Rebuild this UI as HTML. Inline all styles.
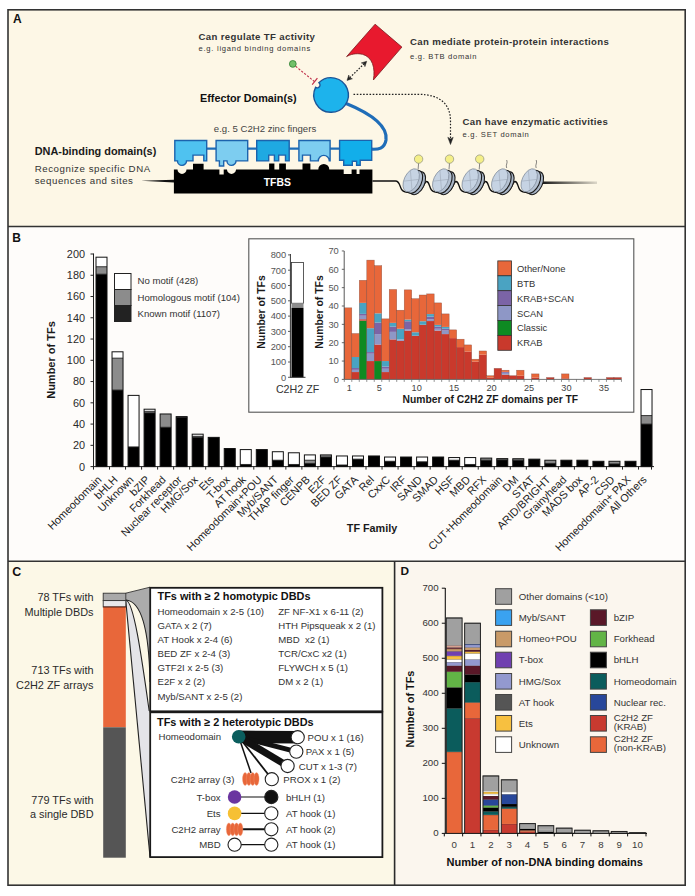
<!DOCTYPE html>
<html><head><meta charset="utf-8"><style>
html,body{margin:0;padding:0;background:#fff;width:695px;height:896px;overflow:hidden}
svg{display:block;font-family:"Liberation Sans", sans-serif}
</style></head><body>
<svg width="695" height="896" viewBox="0 0 695 896">
<rect x="8.00" y="10.00" width="677.00" height="216.50" fill="#FDF7E6" />
<rect x="8.00" y="226.50" width="677.00" height="334.00" fill="#FEFCFA" />
<rect x="8.00" y="560.80" width="386.70" height="324.50" fill="#FCF8E7" />
<rect x="394.70" y="560.80" width="290.60" height="324.50" fill="#FBF6EE" />
<text x="13.00" y="23.30" font-size="12" fill="#111" font-weight="bold" text-anchor="start" >A</text>
<text x="198.50" y="40.40" font-size="9.6" fill="#333" font-weight="bold" text-anchor="start" letter-spacing="0.35">Can regulate TF activity</text>
<text x="198.50" y="51.40" font-size="7.6" fill="#333" text-anchor="start" letter-spacing="0.74">e.g. ligand binding domains</text>
<text x="200.00" y="101.60" font-size="10.8" fill="#111" font-weight="bold" text-anchor="start" >Effector Domain(s)</text>
<text x="410.10" y="45.00" font-size="9.6" fill="#333" font-weight="bold" text-anchor="start" letter-spacing="0.35">Can mediate protein-protein interactions</text>
<text x="410.10" y="58.80" font-size="7.6" fill="#333" text-anchor="start" letter-spacing="0.7">e.g. BTB domain</text>
<text x="462.60" y="125.00" font-size="9.6" fill="#333" font-weight="bold" text-anchor="start" letter-spacing="0.35">Can have enzymatic activities</text>
<text x="462.60" y="137.40" font-size="7.6" fill="#333" text-anchor="start" letter-spacing="0.7">e.g. SET domain</text>
<text x="213.80" y="132.40" font-size="9.6" fill="#444" text-anchor="start" >e.g. 5 C2H2 zinc fingers</text>
<text x="34.70" y="155.30" font-size="10.9" fill="#1a1a1a" font-weight="bold" text-anchor="start" >DNA-binding domain(s)</text>
<text x="34.70" y="172.30" font-size="9.7" fill="#333" text-anchor="start" letter-spacing="0.55">Recognize specific DNA</text>
<text x="34.70" y="184.00" font-size="9.7" fill="#333" text-anchor="start" letter-spacing="0.55">sequences and sites</text>
<line x1="295.6" y1="66.3" x2="314.5" y2="81.6" stroke="#C0304A" stroke-width="1.1" stroke-dasharray="2.2,1.5"/>
<line x1="312.2" y1="84.6" x2="317.4" y2="78.2" stroke="#C0304A" stroke-width="1.2"/>
<circle cx="292.8" cy="63.9" r="3.4" fill="#72C06A" stroke="#2E7D32" stroke-width="0.8"/>
<path d="M345,103 C372,114 388,126 386,140 C384.5,149 378,149.5 371.8,149.2" fill="none" stroke="#1F6DB8" stroke-width="3.2"/>
<path d="M318.87,82.77 A17.3,17.3 0 1 1 315.59,87.33 A2.8,2.8 0 1 0 318.87,82.77 Z" fill="#1DB3EC" stroke="#1A5598" stroke-width="1.4"/>
<path d="M346.6,56.6 L375.1,24.2 L401.9,47.1 L373.4,80 C375.5,68 372.5,57 362.5,54.3 C356,52.8 350,54.5 346.6,56.6 Z" fill="#E8192E" stroke="#7a1a20" stroke-width="0.8"/>
<line x1="349.8" y1="77.7" x2="363.9" y2="64.0" stroke="#222" stroke-width="1.2" stroke-dasharray="1.6,1.5"/>
<path d="M347,80.4 L348.78,75.05 L349.58,77.89 L352.4,78.79 Z" fill="#222" stroke="#222" stroke-width="0.5"/>
<path d="M366.7,61.3 L364.92,66.65 L364.12,63.81 L361.3,62.91 Z" fill="#222" stroke="#222" stroke-width="0.5"/>
<path d="M353.5,94.3 L418,94.3 C440,94.3 450.5,104 450.5,121 L450.5,139" fill="none" stroke="#222" stroke-width="1.2" stroke-dasharray="1.6,1.6"/>
<path d="M450.5,144.5 L447.8,137.3 L450.5,139 L453.2,137.3 Z" fill="#222" stroke="#222" stroke-width="0.5"/>
<path d="M141,180.8 L174,179.8 L174,182.4 Z" fill="#111"/>
<path d="M173.9,169.4 L177.5,169.4 A4.5,4.5 0 0 0 186.5,169.4 L193,169.4 L193,163.8 L203.6,163.8 L203.6,169.4 L219.4,169.4 L219.4,174.6 L223.7,174.6 L223.7,169.4 L227,169.4 A4.5,4.5 0 0 0 236,169.4 L269.1,169.4 L269.1,163.5 L274.4,163.5 L274.4,169.4 L279.2,169.4 L279.2,163.5 L285.9,163.5 L285.9,169.4 L302.5,169.4 L302.5,163.5 L310.4,163.5 L310.4,169.4 L318.3,169.4 A5.5,5.5 0 0 1 329.3,169.4 L343.7,169.4 L343.7,173.9 L351.6,173.9 L351.6,169.4 L356.6,169.4 L356.6,173.9 L359.5,173.9 L359.5,169.4 L372.4,169.4 L372.4,193.5 L173.9,193.5 Z" fill="#000"/>
<text x="277.30" y="185.80" font-size="10.4" fill="#fff" font-weight="bold" text-anchor="middle" >TFBS</text>
<path d="M206.7,148.7 L216.1,148.7 M247.7,148.7 L256.7,148.7 M289.2,148.7 L298.9,148.7 M330.1,148.7 L339.6,148.7" stroke="#1F6DB8" stroke-width="2.2"/>
<path d="M174.8,140.5 L206.7,140.5 L206.7,160.9 L203.8,160.9 L203.8,155.1 L193,155.1 L193,160.9 L186.5,160.9 A4.5,4.5 0 0 1 177.5,160.9 L174.8,160.9 Z" fill="#4FC2F0" stroke="#1C63AD" stroke-width="1.4" stroke-linejoin="miter"/>
<path d="M216.1,140.5 L247.7,140.5 L247.7,160.9 L236,160.9 A4.5,4.5 0 0 1 227,160.9 L223.7,160.9 L223.7,166 L219.4,166 L219.4,160.9 L216.1,160.9 Z" fill="#7DCDF0" stroke="#1C63AD" stroke-width="1.4" stroke-linejoin="miter"/>
<path d="M256.7,140.5 L289.2,140.5 L289.2,160.9 L285.5,160.9 L285.5,155.1 L278.7,155.1 L278.7,160.9 L274.4,160.9 L274.4,155.1 L268.7,155.1 L268.7,160.9 L256.7,160.9 Z" fill="#1FA9E2" stroke="#1C63AD" stroke-width="1.4" stroke-linejoin="miter"/>
<path d="M298.9,140.5 L330.1,140.5 L330.1,160.9 L329.3,160.9 A5.5,5.5 0 0 0 318.3,160.9 L310.4,160.9 L310.4,155.1 L302.5,155.1 L302.5,160.9 L298.9,160.9 Z" fill="#7DCDF0" stroke="#1C63AD" stroke-width="1.4" stroke-linejoin="miter"/>
<path d="M339.6,140.4 L371.7,140.4 L371.7,160.2 L360.2,160.2 L360.2,165.3 L356.6,165.3 L356.6,161.2 L352.3,161.2 L352.3,165.3 L343.7,165.3 L343.7,160.2 L339.6,160.2 Z" fill="#12AEEA" stroke="#1C63AD" stroke-width="1.4" stroke-linejoin="miter"/>
<path d="M372.4,181 L395.5,181 C400,181 399.5,187 402,190 C405,193.5 414,193 420,191 C423.0,189 424.5,181.5 426.5,181.5 C429.5,181.5 429.0,187 431.5,190 C434.5,193.5 443.5,193 449.5,191 C452.5,189 454.0,181.5 456.0,181.5 C459.0,181.5 458.5,187 461.0,190 C464.0,193.5 473.0,193 479.0,191 C482.0,189 483.5,181.5 485.5,181.5 C488.5,181.5 488.0,187 490.5,190 C493.5,193.5 502.5,193 508.5,191 C511.5,189 513.0,181.5 515.0,181.5 C518.0,181.5 517.5,187 520.0,190 C523.0,193.5 532.0,193 538.0,191" fill="none" stroke="#111" stroke-width="1.3"/>
<defs><linearGradient id="fade" gradientUnits="userSpaceOnUse" x1="540" x2="596" y1="0" y2="0"><stop offset="0" stop-color="#111"/><stop offset="1" stop-color="#111" stop-opacity="0.15"/></linearGradient></defs>
<path d="M540,182.8 L597,182.8" stroke="url(#fade)" stroke-width="2.6"/>
<g transform="translate(411.20,180.30) rotate(25)"><ellipse cx="6.8" cy="0" rx="7" ry="12.3" fill="#A8B5C6" stroke="#1a1a1a" stroke-width="1.1"/><ellipse cx="3.6" cy="0" rx="7" ry="12.3" fill="#B4C1D2" stroke="#1a1a1a" stroke-width="1.1"/><ellipse cx="0" cy="0" rx="7" ry="12.3" fill="#C6D3E3" stroke="#7f8b9a" stroke-width="0.7"/><path d="M-4.9,-8.6 L4.9,8.6 M-6.5,4 L6.5,-4" stroke="#9aa6b4" stroke-width="0.5"/></g>
<line x1="418.60" y1="163" x2="418.10" y2="169.5" stroke="#666" stroke-width="0.8"/>
<circle cx="418.60" cy="159.1" r="4.2" fill="#F4EF88" stroke="#9a9a80" stroke-width="0.8"/>
<g transform="translate(440.70,180.30) rotate(25)"><ellipse cx="6.8" cy="0" rx="7" ry="12.3" fill="#A8B5C6" stroke="#1a1a1a" stroke-width="1.1"/><ellipse cx="3.6" cy="0" rx="7" ry="12.3" fill="#B4C1D2" stroke="#1a1a1a" stroke-width="1.1"/><ellipse cx="0" cy="0" rx="7" ry="12.3" fill="#C6D3E3" stroke="#7f8b9a" stroke-width="0.7"/><path d="M-4.9,-8.6 L4.9,8.6 M-6.5,4 L6.5,-4" stroke="#9aa6b4" stroke-width="0.5"/></g>
<line x1="449.50" y1="163" x2="449.00" y2="169.5" stroke="#666" stroke-width="0.8"/>
<circle cx="449.50" cy="159.1" r="4.2" fill="#F4EF88" stroke="#9a9a80" stroke-width="0.8"/>
<g transform="translate(470.20,180.30) rotate(25)"><ellipse cx="6.8" cy="0" rx="7" ry="12.3" fill="#A8B5C6" stroke="#1a1a1a" stroke-width="1.1"/><ellipse cx="3.6" cy="0" rx="7" ry="12.3" fill="#B4C1D2" stroke="#1a1a1a" stroke-width="1.1"/><ellipse cx="0" cy="0" rx="7" ry="12.3" fill="#C6D3E3" stroke="#7f8b9a" stroke-width="0.7"/><path d="M-4.9,-8.6 L4.9,8.6 M-6.5,4 L6.5,-4" stroke="#9aa6b4" stroke-width="0.5"/></g>
<line x1="479.70" y1="163" x2="479.20" y2="169.5" stroke="#666" stroke-width="0.8"/>
<circle cx="479.70" cy="159.1" r="4.2" fill="#F4EF88" stroke="#9a9a80" stroke-width="0.8"/>
<g transform="translate(499.70,180.30) rotate(25)"><ellipse cx="6.8" cy="0" rx="7" ry="12.3" fill="#A8B5C6" stroke="#1a1a1a" stroke-width="1.1"/><ellipse cx="3.6" cy="0" rx="7" ry="12.3" fill="#B4C1D2" stroke="#1a1a1a" stroke-width="1.1"/><ellipse cx="0" cy="0" rx="7" ry="12.3" fill="#C6D3E3" stroke="#7f8b9a" stroke-width="0.7"/><path d="M-4.9,-8.6 L4.9,8.6 M-6.5,4 L6.5,-4" stroke="#9aa6b4" stroke-width="0.5"/></g>
<path d="M506.70,168 C505.20,165 508.20,163 506.70,160" fill="none" stroke="#555" stroke-width="0.7"/>
<g transform="translate(529.20,180.30) rotate(25)"><ellipse cx="6.8" cy="0" rx="7" ry="12.3" fill="#A8B5C6" stroke="#1a1a1a" stroke-width="1.1"/><ellipse cx="3.6" cy="0" rx="7" ry="12.3" fill="#B4C1D2" stroke="#1a1a1a" stroke-width="1.1"/><ellipse cx="0" cy="0" rx="7" ry="12.3" fill="#C6D3E3" stroke="#7f8b9a" stroke-width="0.7"/><path d="M-4.9,-8.6 L4.9,8.6 M-6.5,4 L6.5,-4" stroke="#9aa6b4" stroke-width="0.5"/></g>
<path d="M536.20,168 C534.70,165 537.70,163 536.20,160" fill="none" stroke="#555" stroke-width="0.7"/>
<text x="12.30" y="242.20" font-size="12" fill="#111" font-weight="bold" text-anchor="start" >B</text>
<line x1="93.50" y1="253.50" x2="93.50" y2="467.10" stroke="#222" stroke-width="1" />
<line x1="90.50" y1="466.60" x2="93.50" y2="466.60" stroke="#222" stroke-width="1" />
<text x="85.00" y="470.50" font-size="10.9" fill="#2a2a2a" text-anchor="end" >0</text>
<line x1="90.50" y1="445.34" x2="93.50" y2="445.34" stroke="#222" stroke-width="1" />
<text x="85.00" y="449.24" font-size="10.9" fill="#2a2a2a" text-anchor="end" >20</text>
<line x1="90.50" y1="424.08" x2="93.50" y2="424.08" stroke="#222" stroke-width="1" />
<text x="85.00" y="427.98" font-size="10.9" fill="#2a2a2a" text-anchor="end" >40</text>
<line x1="90.50" y1="402.82" x2="93.50" y2="402.82" stroke="#222" stroke-width="1" />
<text x="85.00" y="406.72" font-size="10.9" fill="#2a2a2a" text-anchor="end" >60</text>
<line x1="90.50" y1="381.56" x2="93.50" y2="381.56" stroke="#222" stroke-width="1" />
<text x="85.00" y="385.46" font-size="10.9" fill="#2a2a2a" text-anchor="end" >80</text>
<line x1="90.50" y1="360.30" x2="93.50" y2="360.30" stroke="#222" stroke-width="1" />
<text x="85.00" y="364.20" font-size="10.9" fill="#2a2a2a" text-anchor="end" >100</text>
<line x1="90.50" y1="339.04" x2="93.50" y2="339.04" stroke="#222" stroke-width="1" />
<text x="85.00" y="342.94" font-size="10.9" fill="#2a2a2a" text-anchor="end" >120</text>
<line x1="90.50" y1="317.78" x2="93.50" y2="317.78" stroke="#222" stroke-width="1" />
<text x="85.00" y="321.68" font-size="10.9" fill="#2a2a2a" text-anchor="end" >140</text>
<line x1="90.50" y1="296.52" x2="93.50" y2="296.52" stroke="#222" stroke-width="1" />
<text x="85.00" y="300.42" font-size="10.9" fill="#2a2a2a" text-anchor="end" >160</text>
<line x1="90.50" y1="275.26" x2="93.50" y2="275.26" stroke="#222" stroke-width="1" />
<text x="85.00" y="279.16" font-size="10.9" fill="#2a2a2a" text-anchor="end" >180</text>
<line x1="90.50" y1="254.00" x2="93.50" y2="254.00" stroke="#222" stroke-width="1" />
<text x="85.00" y="257.90" font-size="10.9" fill="#2a2a2a" text-anchor="end" >200</text>
<text transform="translate(55.2,360) rotate(-90)" x="0" y="0" font-size="11" font-weight="bold" fill="#1a1a1a" text-anchor="middle">Number of TFs</text>
<line x1="93.50" y1="466.60" x2="654.00" y2="466.60" stroke="#222" stroke-width="1" />
<line x1="93.50" y1="466.60" x2="93.50" y2="469.60" stroke="#222" stroke-width="1" />
<rect x="96.00" y="257.19" width="11.00" height="9.57" fill="#ffffff" />
<rect x="96.00" y="266.76" width="11.00" height="7.44" fill="#8c8c8c" />
<rect x="96.00" y="274.20" width="11.00" height="192.40" fill="#000000" />
<line x1="96.00" y1="266.76" x2="107.00" y2="266.76" stroke="#222" stroke-width="0.9" />
<line x1="96.00" y1="274.20" x2="107.00" y2="274.20" stroke="#222" stroke-width="0.9" />
<rect x="96.00" y="257.19" width="11.00" height="209.41" fill="none" stroke="#111" stroke-width="1" />
<text transform="translate(102.30,480.40) rotate(-45)" font-size="10.9" fill="#222" text-anchor="end">Homeodomain</text>
<line x1="109.53" y1="466.60" x2="109.53" y2="469.60" stroke="#222" stroke-width="1" />
<rect x="112.03" y="351.80" width="11.00" height="6.38" fill="#ffffff" />
<rect x="112.03" y="358.17" width="11.00" height="31.89" fill="#8c8c8c" />
<rect x="112.03" y="390.06" width="11.00" height="76.54" fill="#000000" />
<line x1="112.03" y1="358.17" x2="123.03" y2="358.17" stroke="#222" stroke-width="0.9" />
<line x1="112.03" y1="390.06" x2="123.03" y2="390.06" stroke="#222" stroke-width="0.9" />
<rect x="112.03" y="351.80" width="11.00" height="114.80" fill="none" stroke="#111" stroke-width="1" />
<text transform="translate(118.33,480.40) rotate(-45)" font-size="10.9" fill="#222" text-anchor="end">bHLH</text>
<line x1="125.56" y1="466.60" x2="125.56" y2="469.60" stroke="#222" stroke-width="1" />
<rect x="128.06" y="395.38" width="11.00" height="51.56" fill="#ffffff" />
<rect x="128.06" y="446.93" width="11.00" height="19.67" fill="#000000" />
<line x1="128.06" y1="446.93" x2="139.06" y2="446.93" stroke="#222" stroke-width="0.9" />
<rect x="128.06" y="395.38" width="11.00" height="71.22" fill="none" stroke="#111" stroke-width="1" />
<text transform="translate(134.36,480.40) rotate(-45)" font-size="10.9" fill="#222" text-anchor="end">Unknown</text>
<line x1="141.59" y1="466.60" x2="141.59" y2="469.60" stroke="#222" stroke-width="1" />
<rect x="144.09" y="409.20" width="11.00" height="2.13" fill="#ffffff" />
<rect x="144.09" y="411.32" width="11.00" height="1.59" fill="#8c8c8c" />
<rect x="144.09" y="412.92" width="11.00" height="53.68" fill="#000000" />
<line x1="144.09" y1="411.32" x2="155.09" y2="411.32" stroke="#222" stroke-width="0.9" />
<line x1="144.09" y1="412.92" x2="155.09" y2="412.92" stroke="#222" stroke-width="0.9" />
<rect x="144.09" y="409.20" width="11.00" height="57.40" fill="none" stroke="#111" stroke-width="1" />
<text transform="translate(150.39,480.40) rotate(-45)" font-size="10.9" fill="#222" text-anchor="end">bZIP</text>
<line x1="157.62" y1="466.60" x2="157.62" y2="469.60" stroke="#222" stroke-width="1" />
<rect x="160.12" y="413.98" width="11.00" height="13.29" fill="#8c8c8c" />
<rect x="160.12" y="427.27" width="11.00" height="39.33" fill="#000000" />
<line x1="160.12" y1="427.27" x2="171.12" y2="427.27" stroke="#222" stroke-width="0.9" />
<rect x="160.12" y="413.98" width="11.00" height="52.62" fill="none" stroke="#111" stroke-width="1" />
<text transform="translate(166.42,480.40) rotate(-45)" font-size="10.9" fill="#222" text-anchor="end">Forkhead</text>
<line x1="173.65" y1="466.60" x2="173.65" y2="469.60" stroke="#222" stroke-width="1" />
<rect x="176.15" y="416.64" width="11.00" height="0.53" fill="#8c8c8c" />
<rect x="176.15" y="417.17" width="11.00" height="49.43" fill="#000000" />
<line x1="176.15" y1="417.17" x2="187.15" y2="417.17" stroke="#222" stroke-width="0.9" />
<rect x="176.15" y="416.64" width="11.00" height="49.96" fill="none" stroke="#111" stroke-width="1" />
<text transform="translate(182.45,480.40) rotate(-45)" font-size="10.9" fill="#222" text-anchor="end">Nuclear receptor</text>
<line x1="189.68" y1="466.60" x2="189.68" y2="469.60" stroke="#222" stroke-width="1" />
<rect x="192.18" y="434.18" width="11.00" height="2.13" fill="#ffffff" />
<rect x="192.18" y="436.30" width="11.00" height="1.06" fill="#8c8c8c" />
<rect x="192.18" y="437.37" width="11.00" height="29.23" fill="#000000" />
<line x1="192.18" y1="436.30" x2="203.18" y2="436.30" stroke="#222" stroke-width="0.9" />
<line x1="192.18" y1="437.37" x2="203.18" y2="437.37" stroke="#222" stroke-width="0.9" />
<rect x="192.18" y="434.18" width="11.00" height="32.42" fill="none" stroke="#111" stroke-width="1" />
<text transform="translate(198.48,480.40) rotate(-45)" font-size="10.9" fill="#222" text-anchor="end">HMG/Sox</text>
<line x1="205.71" y1="466.60" x2="205.71" y2="469.60" stroke="#222" stroke-width="1" />
<rect x="208.21" y="437.37" width="11.00" height="29.23" fill="#000000" />
<rect x="208.21" y="437.37" width="11.00" height="29.23" fill="none" stroke="#111" stroke-width="1" />
<text transform="translate(214.51,480.40) rotate(-45)" font-size="10.9" fill="#222" text-anchor="end">Ets</text>
<line x1="221.74" y1="466.60" x2="221.74" y2="469.60" stroke="#222" stroke-width="1" />
<rect x="224.24" y="448.53" width="11.00" height="18.07" fill="#000000" />
<rect x="224.24" y="448.53" width="11.00" height="18.07" fill="none" stroke="#111" stroke-width="1" />
<text transform="translate(230.54,480.40) rotate(-45)" font-size="10.9" fill="#222" text-anchor="end">T-box</text>
<line x1="237.77" y1="466.60" x2="237.77" y2="469.60" stroke="#222" stroke-width="1" />
<rect x="240.27" y="449.59" width="11.00" height="14.88" fill="#ffffff" />
<rect x="240.27" y="464.47" width="11.00" height="2.13" fill="#000000" />
<line x1="240.27" y1="464.47" x2="251.27" y2="464.47" stroke="#222" stroke-width="0.9" />
<rect x="240.27" y="449.59" width="11.00" height="17.01" fill="none" stroke="#111" stroke-width="1" />
<text transform="translate(246.57,480.40) rotate(-45)" font-size="10.9" fill="#222" text-anchor="end">AT hook</text>
<line x1="253.80" y1="466.60" x2="253.80" y2="469.60" stroke="#222" stroke-width="1" />
<rect x="256.30" y="449.59" width="11.00" height="17.01" fill="#000000" />
<rect x="256.30" y="449.59" width="11.00" height="17.01" fill="none" stroke="#111" stroke-width="1" />
<text transform="translate(262.60,480.40) rotate(-45)" font-size="10.9" fill="#222" text-anchor="end">Homeodomain+POU</text>
<line x1="269.83" y1="466.60" x2="269.83" y2="469.60" stroke="#222" stroke-width="1" />
<rect x="272.33" y="451.72" width="11.00" height="8.50" fill="#ffffff" />
<rect x="272.33" y="460.22" width="11.00" height="6.38" fill="#000000" />
<line x1="272.33" y1="460.22" x2="283.33" y2="460.22" stroke="#222" stroke-width="0.9" />
<rect x="272.33" y="451.72" width="11.00" height="14.88" fill="none" stroke="#111" stroke-width="1" />
<text transform="translate(278.63,480.40) rotate(-45)" font-size="10.9" fill="#222" text-anchor="end">Myb/SANT</text>
<line x1="285.86" y1="466.60" x2="285.86" y2="469.60" stroke="#222" stroke-width="1" />
<rect x="288.36" y="452.78" width="11.00" height="11.69" fill="#ffffff" />
<rect x="288.36" y="464.47" width="11.00" height="2.13" fill="#000000" />
<line x1="288.36" y1="464.47" x2="299.36" y2="464.47" stroke="#222" stroke-width="0.9" />
<rect x="288.36" y="452.78" width="11.00" height="13.82" fill="none" stroke="#111" stroke-width="1" />
<text transform="translate(294.66,480.40) rotate(-45)" font-size="10.9" fill="#222" text-anchor="end">THAP finger</text>
<line x1="301.89" y1="466.60" x2="301.89" y2="469.60" stroke="#222" stroke-width="1" />
<rect x="304.39" y="454.91" width="11.00" height="5.31" fill="#ffffff" />
<rect x="304.39" y="460.22" width="11.00" height="3.19" fill="#8c8c8c" />
<rect x="304.39" y="463.41" width="11.00" height="3.19" fill="#000000" />
<line x1="304.39" y1="460.22" x2="315.39" y2="460.22" stroke="#222" stroke-width="0.9" />
<line x1="304.39" y1="463.41" x2="315.39" y2="463.41" stroke="#222" stroke-width="0.9" />
<rect x="304.39" y="454.91" width="11.00" height="11.69" fill="none" stroke="#111" stroke-width="1" />
<text transform="translate(310.69,480.40) rotate(-45)" font-size="10.9" fill="#222" text-anchor="end">CENPB</text>
<line x1="317.92" y1="466.60" x2="317.92" y2="469.60" stroke="#222" stroke-width="1" />
<rect x="320.42" y="454.91" width="11.00" height="2.13" fill="#8c8c8c" />
<rect x="320.42" y="457.03" width="11.00" height="9.57" fill="#000000" />
<line x1="320.42" y1="457.03" x2="331.42" y2="457.03" stroke="#222" stroke-width="0.9" />
<rect x="320.42" y="454.91" width="11.00" height="11.69" fill="none" stroke="#111" stroke-width="1" />
<text transform="translate(326.72,480.40) rotate(-45)" font-size="10.9" fill="#222" text-anchor="end">E2F</text>
<line x1="333.95" y1="466.60" x2="333.95" y2="469.60" stroke="#222" stroke-width="1" />
<rect x="336.45" y="455.97" width="11.00" height="9.04" fill="#ffffff" />
<rect x="336.45" y="465.01" width="11.00" height="1.59" fill="#000000" />
<line x1="336.45" y1="465.01" x2="347.45" y2="465.01" stroke="#222" stroke-width="0.9" />
<rect x="336.45" y="455.97" width="11.00" height="10.63" fill="none" stroke="#111" stroke-width="1" />
<text transform="translate(342.75,480.40) rotate(-45)" font-size="10.9" fill="#222" text-anchor="end">BED ZF</text>
<line x1="349.98" y1="466.60" x2="349.98" y2="469.60" stroke="#222" stroke-width="1" />
<rect x="352.48" y="455.97" width="11.00" height="3.19" fill="#ffffff" />
<rect x="352.48" y="459.16" width="11.00" height="7.44" fill="#000000" />
<line x1="352.48" y1="459.16" x2="363.48" y2="459.16" stroke="#222" stroke-width="0.9" />
<rect x="352.48" y="455.97" width="11.00" height="10.63" fill="none" stroke="#111" stroke-width="1" />
<text transform="translate(358.78,480.40) rotate(-45)" font-size="10.9" fill="#222" text-anchor="end">GATA</text>
<line x1="366.01" y1="466.60" x2="366.01" y2="469.60" stroke="#222" stroke-width="1" />
<rect x="368.51" y="455.97" width="11.00" height="10.63" fill="#000000" />
<rect x="368.51" y="455.97" width="11.00" height="10.63" fill="none" stroke="#111" stroke-width="1" />
<text transform="translate(374.81,480.40) rotate(-45)" font-size="10.9" fill="#222" text-anchor="end">Rel</text>
<line x1="382.04" y1="466.60" x2="382.04" y2="469.60" stroke="#222" stroke-width="1" />
<rect x="384.54" y="457.03" width="11.00" height="4.25" fill="#ffffff" />
<rect x="384.54" y="461.29" width="11.00" height="5.31" fill="#000000" />
<line x1="384.54" y1="461.29" x2="395.54" y2="461.29" stroke="#222" stroke-width="0.9" />
<rect x="384.54" y="457.03" width="11.00" height="9.57" fill="none" stroke="#111" stroke-width="1" />
<text transform="translate(390.84,480.40) rotate(-45)" font-size="10.9" fill="#222" text-anchor="end">CxxC</text>
<line x1="398.07" y1="466.60" x2="398.07" y2="469.60" stroke="#222" stroke-width="1" />
<rect x="400.57" y="457.03" width="11.00" height="9.57" fill="#000000" />
<rect x="400.57" y="457.03" width="11.00" height="9.57" fill="none" stroke="#111" stroke-width="1" />
<text transform="translate(406.87,480.40) rotate(-45)" font-size="10.9" fill="#222" text-anchor="end">IRF</text>
<line x1="414.10" y1="466.60" x2="414.10" y2="469.60" stroke="#222" stroke-width="1" />
<rect x="416.60" y="457.03" width="11.00" height="4.78" fill="#ffffff" />
<rect x="416.60" y="461.82" width="11.00" height="4.78" fill="#000000" />
<line x1="416.60" y1="461.82" x2="427.60" y2="461.82" stroke="#222" stroke-width="0.9" />
<rect x="416.60" y="457.03" width="11.00" height="9.57" fill="none" stroke="#111" stroke-width="1" />
<text transform="translate(422.90,480.40) rotate(-45)" font-size="10.9" fill="#222" text-anchor="end">SAND</text>
<line x1="430.13" y1="466.60" x2="430.13" y2="469.60" stroke="#222" stroke-width="1" />
<rect x="432.63" y="457.03" width="11.00" height="9.57" fill="#000000" />
<rect x="432.63" y="457.03" width="11.00" height="9.57" fill="none" stroke="#111" stroke-width="1" />
<text transform="translate(438.93,480.40) rotate(-45)" font-size="10.9" fill="#222" text-anchor="end">SMAD</text>
<line x1="446.16" y1="466.60" x2="446.16" y2="469.60" stroke="#222" stroke-width="1" />
<rect x="448.66" y="457.56" width="11.00" height="2.66" fill="#ffffff" />
<rect x="448.66" y="460.22" width="11.00" height="6.38" fill="#000000" />
<line x1="448.66" y1="460.22" x2="459.66" y2="460.22" stroke="#222" stroke-width="0.9" />
<rect x="448.66" y="457.56" width="11.00" height="9.04" fill="none" stroke="#111" stroke-width="1" />
<text transform="translate(454.96,480.40) rotate(-45)" font-size="10.9" fill="#222" text-anchor="end">HSF</text>
<line x1="462.19" y1="466.60" x2="462.19" y2="469.60" stroke="#222" stroke-width="1" />
<rect x="464.69" y="457.56" width="11.00" height="6.91" fill="#ffffff" />
<rect x="464.69" y="464.47" width="11.00" height="2.13" fill="#000000" />
<line x1="464.69" y1="464.47" x2="475.69" y2="464.47" stroke="#222" stroke-width="0.9" />
<rect x="464.69" y="457.56" width="11.00" height="9.04" fill="none" stroke="#111" stroke-width="1" />
<text transform="translate(470.99,480.40) rotate(-45)" font-size="10.9" fill="#222" text-anchor="end">MBD</text>
<line x1="478.22" y1="466.60" x2="478.22" y2="469.60" stroke="#222" stroke-width="1" />
<rect x="480.72" y="458.10" width="11.00" height="2.13" fill="#8c8c8c" />
<rect x="480.72" y="460.22" width="11.00" height="6.38" fill="#000000" />
<line x1="480.72" y1="460.22" x2="491.72" y2="460.22" stroke="#222" stroke-width="0.9" />
<rect x="480.72" y="458.10" width="11.00" height="8.50" fill="none" stroke="#111" stroke-width="1" />
<text transform="translate(487.02,480.40) rotate(-45)" font-size="10.9" fill="#222" text-anchor="end">RFX</text>
<line x1="494.25" y1="466.60" x2="494.25" y2="469.60" stroke="#222" stroke-width="1" />
<rect x="496.75" y="458.63" width="11.00" height="1.28" fill="#8c8c8c" />
<rect x="496.75" y="459.90" width="11.00" height="6.70" fill="#000000" />
<line x1="496.75" y1="459.90" x2="507.75" y2="459.90" stroke="#222" stroke-width="0.9" />
<rect x="496.75" y="458.63" width="11.00" height="7.97" fill="none" stroke="#111" stroke-width="1" />
<text transform="translate(503.05,480.40) rotate(-45)" font-size="10.9" fill="#222" text-anchor="end">CUT+Homeodomain</text>
<line x1="510.28" y1="466.60" x2="510.28" y2="469.60" stroke="#222" stroke-width="1" />
<rect x="512.78" y="458.73" width="11.00" height="1.49" fill="#8c8c8c" />
<rect x="512.78" y="460.22" width="11.00" height="6.38" fill="#000000" />
<line x1="512.78" y1="460.22" x2="523.78" y2="460.22" stroke="#222" stroke-width="0.9" />
<rect x="512.78" y="458.73" width="11.00" height="7.87" fill="none" stroke="#111" stroke-width="1" />
<text transform="translate(519.08,480.40) rotate(-45)" font-size="10.9" fill="#222" text-anchor="end">DM</text>
<line x1="526.31" y1="466.60" x2="526.31" y2="469.60" stroke="#222" stroke-width="1" />
<rect x="528.81" y="459.16" width="11.00" height="7.44" fill="#000000" />
<rect x="528.81" y="459.16" width="11.00" height="7.44" fill="none" stroke="#111" stroke-width="1" />
<text transform="translate(535.11,480.40) rotate(-45)" font-size="10.9" fill="#222" text-anchor="end">STAT</text>
<line x1="542.34" y1="466.60" x2="542.34" y2="469.60" stroke="#222" stroke-width="1" />
<rect x="544.84" y="460.22" width="11.00" height="3.19" fill="#8c8c8c" />
<rect x="544.84" y="463.41" width="11.00" height="3.19" fill="#000000" />
<line x1="544.84" y1="463.41" x2="555.84" y2="463.41" stroke="#222" stroke-width="0.9" />
<rect x="544.84" y="460.22" width="11.00" height="6.38" fill="none" stroke="#111" stroke-width="1" />
<text transform="translate(551.14,480.40) rotate(-45)" font-size="10.9" fill="#222" text-anchor="end">ARID/BRIGHT</text>
<line x1="558.37" y1="466.60" x2="558.37" y2="469.60" stroke="#222" stroke-width="1" />
<rect x="560.87" y="460.22" width="11.00" height="6.38" fill="#000000" />
<rect x="560.87" y="460.22" width="11.00" height="6.38" fill="none" stroke="#111" stroke-width="1" />
<text transform="translate(567.17,480.40) rotate(-45)" font-size="10.9" fill="#222" text-anchor="end">Grainyhead</text>
<line x1="574.40" y1="466.60" x2="574.40" y2="469.60" stroke="#222" stroke-width="1" />
<rect x="576.90" y="460.22" width="11.00" height="6.38" fill="#000000" />
<rect x="576.90" y="460.22" width="11.00" height="6.38" fill="none" stroke="#111" stroke-width="1" />
<text transform="translate(583.20,480.40) rotate(-45)" font-size="10.9" fill="#222" text-anchor="end">MADS box</text>
<line x1="590.43" y1="466.60" x2="590.43" y2="469.60" stroke="#222" stroke-width="1" />
<rect x="592.93" y="461.29" width="11.00" height="5.31" fill="#000000" />
<rect x="592.93" y="461.29" width="11.00" height="5.31" fill="none" stroke="#111" stroke-width="1" />
<text transform="translate(599.23,480.40) rotate(-45)" font-size="10.9" fill="#222" text-anchor="end">AP-2</text>
<line x1="606.46" y1="466.60" x2="606.46" y2="469.60" stroke="#222" stroke-width="1" />
<rect x="608.96" y="461.28" width="11.00" height="2.66" fill="#8c8c8c" />
<rect x="608.96" y="463.94" width="11.00" height="2.66" fill="#000000" />
<line x1="608.96" y1="463.94" x2="619.96" y2="463.94" stroke="#222" stroke-width="0.9" />
<rect x="608.96" y="461.28" width="11.00" height="5.31" fill="none" stroke="#111" stroke-width="1" />
<text transform="translate(615.26,480.40) rotate(-45)" font-size="10.9" fill="#222" text-anchor="end">CSD</text>
<line x1="622.49" y1="466.60" x2="622.49" y2="469.60" stroke="#222" stroke-width="1" />
<rect x="624.99" y="461.29" width="11.00" height="5.31" fill="#000000" />
<rect x="624.99" y="461.29" width="11.00" height="5.31" fill="none" stroke="#111" stroke-width="1" />
<text transform="translate(631.29,480.40) rotate(-45)" font-size="10.9" fill="#222" text-anchor="end">Homeodomain+ PAX</text>
<line x1="638.52" y1="466.60" x2="638.52" y2="469.60" stroke="#222" stroke-width="1" />
<rect x="641.02" y="389.53" width="11.00" height="26.04" fill="#ffffff" />
<rect x="641.02" y="415.58" width="11.00" height="8.50" fill="#8c8c8c" />
<rect x="641.02" y="424.08" width="11.00" height="42.52" fill="#000000" />
<line x1="641.02" y1="415.58" x2="652.02" y2="415.58" stroke="#222" stroke-width="0.9" />
<line x1="641.02" y1="424.08" x2="652.02" y2="424.08" stroke="#222" stroke-width="0.9" />
<rect x="641.02" y="389.53" width="11.00" height="77.07" fill="none" stroke="#111" stroke-width="1" />
<text transform="translate(647.32,480.40) rotate(-45)" font-size="10.9" fill="#222" text-anchor="end">All Others</text>
<line x1="651.50" y1="466.60" x2="651.50" y2="469.60" stroke="#222" stroke-width="1" />
<text x="372.00" y="532.00" font-size="10.8" fill="#1a1a1a" font-weight="bold" text-anchor="middle" >TF Family</text>
<rect x="114.50" y="273.50" width="16.50" height="16.00" fill="#ffffff" stroke="#222" stroke-width="1" />
<rect x="114.50" y="289.50" width="16.50" height="16.00" fill="#8c8c8c" stroke="#222" stroke-width="1" />
<rect x="114.50" y="305.50" width="16.50" height="16.00" fill="#222222" stroke="#222" stroke-width="1" />
<text x="137.50" y="284.00" font-size="9.6" fill="#333" text-anchor="start" >No motif (428)</text>
<text x="137.50" y="300.50" font-size="9.6" fill="#333" text-anchor="start" >Homologous motif (104)</text>
<text x="137.50" y="317.00" font-size="9.6" fill="#333" text-anchor="start" >Known motif (1107)</text>
<rect x="248.80" y="238.80" width="385.00" height="173.40" fill="#ffffff" stroke="#555" stroke-width="1.1" />
<line x1="290.40" y1="254.00" x2="290.40" y2="377.30" stroke="#333" stroke-width="1" />
<line x1="288.00" y1="377.30" x2="290.40" y2="377.30" stroke="#333" stroke-width="0.8" />
<text x="286.20" y="380.60" font-size="9.3" fill="#555" text-anchor="end" >0</text>
<line x1="288.00" y1="362.00" x2="290.40" y2="362.00" stroke="#333" stroke-width="0.8" />
<text x="286.20" y="365.30" font-size="9.3" fill="#555" text-anchor="end" >100</text>
<line x1="288.00" y1="346.70" x2="290.40" y2="346.70" stroke="#333" stroke-width="0.8" />
<text x="286.20" y="350.00" font-size="9.3" fill="#555" text-anchor="end" >200</text>
<line x1="288.00" y1="331.40" x2="290.40" y2="331.40" stroke="#333" stroke-width="0.8" />
<text x="286.20" y="334.70" font-size="9.3" fill="#555" text-anchor="end" >300</text>
<line x1="288.00" y1="316.10" x2="290.40" y2="316.10" stroke="#333" stroke-width="0.8" />
<text x="286.20" y="319.40" font-size="9.3" fill="#555" text-anchor="end" >400</text>
<line x1="288.00" y1="300.80" x2="290.40" y2="300.80" stroke="#333" stroke-width="0.8" />
<text x="286.20" y="304.10" font-size="9.3" fill="#555" text-anchor="end" >500</text>
<line x1="288.00" y1="285.50" x2="290.40" y2="285.50" stroke="#333" stroke-width="0.8" />
<text x="286.20" y="288.80" font-size="9.3" fill="#555" text-anchor="end" >600</text>
<line x1="288.00" y1="270.20" x2="290.40" y2="270.20" stroke="#333" stroke-width="0.8" />
<text x="286.20" y="273.50" font-size="9.3" fill="#555" text-anchor="end" >700</text>
<line x1="288.00" y1="254.90" x2="290.40" y2="254.90" stroke="#333" stroke-width="0.8" />
<text x="286.20" y="258.20" font-size="9.3" fill="#555" text-anchor="end" >800</text>
<rect x="291.50" y="262.55" width="12.00" height="40.70" fill="#fff" stroke="#333" stroke-width="0.8" />
<rect x="291.50" y="303.25" width="12.00" height="4.59" fill="#8c8c8c" />
<rect x="291.50" y="307.84" width="12.00" height="69.46" fill="#000" />
<line x1="290.00" y1="377.30" x2="305.50" y2="377.30" stroke="#333" stroke-width="1" />
<text transform="translate(265.2,312) rotate(-90)" font-size="10.4" font-weight="bold" fill="#1a1a1a" text-anchor="middle">Number of TFs</text>
<text x="297.60" y="393.40" font-size="10.7" fill="#333" text-anchor="middle" >C2H2 ZF</text>
<rect x="344.30" y="307.83" width="7.49" height="71.56" fill="#E8673A" />
<rect x="344.30" y="307.83" width="7.49" height="71.56" fill="none" stroke="#6a3a30" stroke-width="0.5" stroke-opacity="0.6"/>
<rect x="351.79" y="372.06" width="7.49" height="7.34" fill="#C9392C" />
<rect x="351.79" y="369.86" width="7.49" height="2.20" fill="#8E97C6" />
<rect x="351.79" y="368.02" width="7.49" height="1.83" fill="#7B64A6" />
<rect x="351.79" y="357.01" width="7.49" height="11.01" fill="#4AA3C2" />
<rect x="351.79" y="333.53" width="7.49" height="23.49" fill="#E8673A" />
<rect x="351.79" y="333.53" width="7.49" height="45.87" fill="none" stroke="#6a3a30" stroke-width="0.5" stroke-opacity="0.6"/>
<rect x="359.28" y="320.68" width="7.49" height="58.72" fill="#0E8A22" />
<rect x="359.28" y="319.21" width="7.49" height="1.47" fill="#C9392C" />
<rect x="359.28" y="315.73" width="7.49" height="3.49" fill="#8E97C6" />
<rect x="359.28" y="313.89" width="7.49" height="1.83" fill="#7B64A6" />
<rect x="359.28" y="302.88" width="7.49" height="11.01" fill="#4AA3C2" />
<rect x="359.28" y="280.31" width="7.49" height="22.57" fill="#E8673A" />
<rect x="359.28" y="280.31" width="7.49" height="99.09" fill="none" stroke="#6a3a30" stroke-width="0.5" stroke-opacity="0.6"/>
<rect x="366.77" y="361.05" width="7.49" height="18.35" fill="#C9392C" />
<rect x="366.77" y="353.71" width="7.49" height="7.34" fill="#8E97C6" />
<rect x="366.77" y="352.06" width="7.49" height="1.65" fill="#7B64A6" />
<rect x="366.77" y="328.20" width="7.49" height="23.86" fill="#4AA3C2" />
<rect x="366.77" y="260.12" width="7.49" height="68.08" fill="#E8673A" />
<rect x="366.77" y="260.12" width="7.49" height="119.28" fill="none" stroke="#6a3a30" stroke-width="0.5" stroke-opacity="0.6"/>
<rect x="374.26" y="361.05" width="7.49" height="18.35" fill="#0E8A22" />
<rect x="374.26" y="344.53" width="7.49" height="16.52" fill="#C9392C" />
<rect x="374.26" y="334.08" width="7.49" height="10.46" fill="#8E97C6" />
<rect x="374.26" y="322.51" width="7.49" height="11.56" fill="#7B64A6" />
<rect x="374.26" y="313.34" width="7.49" height="9.18" fill="#4AA3C2" />
<rect x="374.26" y="265.63" width="7.49" height="47.71" fill="#E8673A" />
<rect x="374.26" y="265.63" width="7.49" height="113.77" fill="none" stroke="#6a3a30" stroke-width="0.5" stroke-opacity="0.6"/>
<rect x="381.75" y="372.06" width="7.49" height="7.34" fill="#C9392C" />
<rect x="381.75" y="368.76" width="7.49" height="3.30" fill="#8E97C6" />
<rect x="381.75" y="366.56" width="7.49" height="2.20" fill="#7B64A6" />
<rect x="381.75" y="361.05" width="7.49" height="5.50" fill="#4AA3C2" />
<rect x="381.75" y="318.85" width="7.49" height="42.20" fill="#E8673A" />
<rect x="381.75" y="318.85" width="7.49" height="60.55" fill="none" stroke="#6a3a30" stroke-width="0.5" stroke-opacity="0.6"/>
<rect x="389.24" y="339.40" width="7.49" height="40.00" fill="#C9392C" />
<rect x="389.24" y="331.87" width="7.49" height="7.52" fill="#8E97C6" />
<rect x="389.24" y="326.55" width="7.49" height="5.32" fill="#7B64A6" />
<rect x="389.24" y="322.88" width="7.49" height="3.67" fill="#4AA3C2" />
<rect x="389.24" y="289.48" width="7.49" height="33.40" fill="#E8673A" />
<rect x="389.24" y="289.48" width="7.49" height="89.92" fill="none" stroke="#6a3a30" stroke-width="0.5" stroke-opacity="0.6"/>
<rect x="396.73" y="340.87" width="7.49" height="38.53" fill="#C9392C" />
<rect x="396.73" y="339.40" width="7.49" height="1.47" fill="#8E97C6" />
<rect x="396.73" y="328.75" width="7.49" height="10.64" fill="#4AA3C2" />
<rect x="396.73" y="310.22" width="7.49" height="18.53" fill="#E8673A" />
<rect x="396.73" y="310.22" width="7.49" height="69.18" fill="none" stroke="#6a3a30" stroke-width="0.5" stroke-opacity="0.6"/>
<rect x="404.22" y="330.59" width="7.49" height="48.81" fill="#C9392C" />
<rect x="404.22" y="329.12" width="7.49" height="1.47" fill="#8E97C6" />
<rect x="404.22" y="321.23" width="7.49" height="7.89" fill="#7B64A6" />
<rect x="404.22" y="319.58" width="7.49" height="1.65" fill="#4AA3C2" />
<rect x="404.22" y="289.85" width="7.49" height="29.73" fill="#E8673A" />
<rect x="404.22" y="289.85" width="7.49" height="89.55" fill="none" stroke="#6a3a30" stroke-width="0.5" stroke-opacity="0.6"/>
<rect x="411.71" y="335.73" width="7.49" height="43.67" fill="#C9392C" />
<rect x="411.71" y="332.24" width="7.49" height="3.49" fill="#4AA3C2" />
<rect x="411.71" y="298.66" width="7.49" height="33.58" fill="#E8673A" />
<rect x="411.71" y="298.66" width="7.49" height="80.74" fill="none" stroke="#6a3a30" stroke-width="0.5" stroke-opacity="0.6"/>
<rect x="419.20" y="324.72" width="7.49" height="54.68" fill="#C9392C" />
<rect x="419.20" y="321.23" width="7.49" height="3.49" fill="#4AA3C2" />
<rect x="419.20" y="294.99" width="7.49" height="26.24" fill="#E8673A" />
<rect x="419.20" y="294.99" width="7.49" height="84.41" fill="none" stroke="#6a3a30" stroke-width="0.5" stroke-opacity="0.6"/>
<rect x="426.69" y="321.05" width="7.49" height="58.35" fill="#C9392C" />
<rect x="426.69" y="319.21" width="7.49" height="1.83" fill="#8E97C6" />
<rect x="426.69" y="316.64" width="7.49" height="2.57" fill="#7B64A6" />
<rect x="426.69" y="314.07" width="7.49" height="2.57" fill="#4AA3C2" />
<rect x="426.69" y="293.89" width="7.49" height="20.18" fill="#E8673A" />
<rect x="426.69" y="293.89" width="7.49" height="85.51" fill="none" stroke="#6a3a30" stroke-width="0.5" stroke-opacity="0.6"/>
<rect x="434.18" y="330.59" width="7.49" height="48.81" fill="#C9392C" />
<rect x="434.18" y="328.75" width="7.49" height="1.83" fill="#8E97C6" />
<rect x="434.18" y="326.55" width="7.49" height="2.20" fill="#7B64A6" />
<rect x="434.18" y="324.90" width="7.49" height="1.65" fill="#4AA3C2" />
<rect x="434.18" y="302.88" width="7.49" height="22.02" fill="#E8673A" />
<rect x="434.18" y="302.88" width="7.49" height="76.52" fill="none" stroke="#6a3a30" stroke-width="0.5" stroke-opacity="0.6"/>
<rect x="441.67" y="334.08" width="7.49" height="45.32" fill="#C9392C" />
<rect x="441.67" y="330.59" width="7.49" height="3.49" fill="#8E97C6" />
<rect x="441.67" y="328.75" width="7.49" height="1.83" fill="#7B64A6" />
<rect x="441.67" y="326.92" width="7.49" height="1.83" fill="#4AA3C2" />
<rect x="441.67" y="313.89" width="7.49" height="13.03" fill="#E8673A" />
<rect x="441.67" y="313.89" width="7.49" height="65.51" fill="none" stroke="#6a3a30" stroke-width="0.5" stroke-opacity="0.6"/>
<rect x="449.16" y="338.11" width="7.49" height="41.29" fill="#C9392C" />
<rect x="449.16" y="329.85" width="7.49" height="8.26" fill="#E8673A" />
<rect x="449.16" y="329.85" width="7.49" height="49.55" fill="none" stroke="#6a3a30" stroke-width="0.5" stroke-opacity="0.6"/>
<rect x="456.65" y="347.10" width="7.49" height="32.30" fill="#C9392C" />
<rect x="456.65" y="339.21" width="7.49" height="7.89" fill="#E8673A" />
<rect x="456.65" y="339.21" width="7.49" height="40.19" fill="none" stroke="#6a3a30" stroke-width="0.5" stroke-opacity="0.6"/>
<rect x="464.14" y="351.51" width="7.49" height="27.89" fill="#C9392C" />
<rect x="464.14" y="344.90" width="7.49" height="6.61" fill="#E8673A" />
<rect x="464.14" y="344.90" width="7.49" height="34.50" fill="none" stroke="#6a3a30" stroke-width="0.5" stroke-opacity="0.6"/>
<rect x="471.63" y="361.60" width="7.49" height="17.80" fill="#C9392C" />
<rect x="471.63" y="359.21" width="7.49" height="2.39" fill="#E8673A" />
<rect x="471.63" y="359.21" width="7.49" height="20.19" fill="none" stroke="#6a3a30" stroke-width="0.5" stroke-opacity="0.6"/>
<rect x="479.12" y="354.63" width="7.49" height="24.77" fill="#C9392C" />
<rect x="479.12" y="350.96" width="7.49" height="3.67" fill="#E8673A" />
<rect x="479.12" y="350.96" width="7.49" height="28.44" fill="none" stroke="#6a3a30" stroke-width="0.5" stroke-opacity="0.6"/>
<rect x="486.61" y="377.56" width="7.49" height="1.83" fill="#C9392C" />
<rect x="486.61" y="375.73" width="7.49" height="1.83" fill="#E8673A" />
<rect x="486.61" y="375.73" width="7.49" height="3.67" fill="none" stroke="#6a3a30" stroke-width="0.5" stroke-opacity="0.6"/>
<rect x="494.10" y="368.39" width="7.49" height="11.01" fill="#C9392C" />
<rect x="494.10" y="368.39" width="7.49" height="11.01" fill="none" stroke="#6a3a30" stroke-width="0.5" stroke-opacity="0.6"/>
<rect x="501.59" y="374.63" width="7.49" height="4.77" fill="#C9392C" />
<rect x="501.59" y="372.79" width="7.49" height="1.83" fill="#8E97C6" />
<rect x="501.59" y="371.88" width="7.49" height="0.92" fill="#7B64A6" />
<rect x="501.59" y="370.22" width="7.49" height="1.65" fill="#E8673A" />
<rect x="501.59" y="370.22" width="7.49" height="9.18" fill="none" stroke="#6a3a30" stroke-width="0.5" stroke-opacity="0.6"/>
<rect x="509.08" y="375.73" width="7.49" height="3.67" fill="#C9392C" />
<rect x="509.08" y="375.73" width="7.49" height="3.67" fill="none" stroke="#6a3a30" stroke-width="0.5" stroke-opacity="0.6"/>
<rect x="516.57" y="375.73" width="7.49" height="3.67" fill="#C9392C" />
<rect x="516.57" y="370.22" width="7.49" height="5.50" fill="#E8673A" />
<rect x="516.57" y="370.22" width="7.49" height="9.18" fill="none" stroke="#6a3a30" stroke-width="0.5" stroke-opacity="0.6"/>
<rect x="531.55" y="377.56" width="7.49" height="1.83" fill="#C9392C" />
<rect x="531.55" y="373.89" width="7.49" height="3.67" fill="#E8673A" />
<rect x="531.55" y="373.89" width="7.49" height="5.50" fill="none" stroke="#6a3a30" stroke-width="0.5" stroke-opacity="0.6"/>
<rect x="546.53" y="377.56" width="7.49" height="1.83" fill="#C9392C" />
<rect x="546.53" y="377.56" width="7.49" height="1.83" fill="none" stroke="#6a3a30" stroke-width="0.5" stroke-opacity="0.6"/>
<rect x="561.51" y="378.30" width="7.49" height="1.10" fill="#C9392C" />
<rect x="561.51" y="373.89" width="7.49" height="4.40" fill="#E8673A" />
<rect x="561.51" y="373.89" width="7.49" height="5.50" fill="none" stroke="#6a3a30" stroke-width="0.5" stroke-opacity="0.6"/>
<rect x="583.98" y="377.56" width="7.49" height="1.83" fill="#C9392C" />
<rect x="583.98" y="377.56" width="7.49" height="1.83" fill="none" stroke="#6a3a30" stroke-width="0.5" stroke-opacity="0.6"/>
<rect x="606.45" y="377.56" width="7.49" height="1.83" fill="#C9392C" />
<rect x="606.45" y="377.56" width="7.49" height="1.83" fill="none" stroke="#6a3a30" stroke-width="0.5" stroke-opacity="0.6"/>
<rect x="613.94" y="377.56" width="7.49" height="1.83" fill="#C9392C" />
<rect x="613.94" y="377.56" width="7.49" height="1.83" fill="none" stroke="#6a3a30" stroke-width="0.5" stroke-opacity="0.6"/>
<line x1="344.20" y1="251.00" x2="344.20" y2="379.40" stroke="#444" stroke-width="0.9" />
<line x1="341.80" y1="379.40" x2="344.20" y2="379.40" stroke="#444" stroke-width="0.8" />
<text x="338.80" y="382.70" font-size="9.3" fill="#555" text-anchor="end" >0</text>
<line x1="341.80" y1="361.05" x2="344.20" y2="361.05" stroke="#444" stroke-width="0.8" />
<text x="338.80" y="364.35" font-size="9.3" fill="#555" text-anchor="end" >10</text>
<line x1="341.80" y1="342.70" x2="344.20" y2="342.70" stroke="#444" stroke-width="0.8" />
<text x="338.80" y="346.00" font-size="9.3" fill="#555" text-anchor="end" >20</text>
<line x1="341.80" y1="324.35" x2="344.20" y2="324.35" stroke="#444" stroke-width="0.8" />
<text x="338.80" y="327.65" font-size="9.3" fill="#555" text-anchor="end" >30</text>
<line x1="341.80" y1="306.00" x2="344.20" y2="306.00" stroke="#444" stroke-width="0.8" />
<text x="338.80" y="309.30" font-size="9.3" fill="#555" text-anchor="end" >40</text>
<line x1="341.80" y1="287.65" x2="344.20" y2="287.65" stroke="#444" stroke-width="0.8" />
<text x="338.80" y="290.95" font-size="9.3" fill="#555" text-anchor="end" >50</text>
<line x1="341.80" y1="269.30" x2="344.20" y2="269.30" stroke="#444" stroke-width="0.8" />
<text x="338.80" y="272.60" font-size="9.3" fill="#555" text-anchor="end" >60</text>
<line x1="341.80" y1="250.95" x2="344.20" y2="250.95" stroke="#444" stroke-width="0.8" />
<text x="338.80" y="254.25" font-size="9.3" fill="#555" text-anchor="end" >70</text>
<line x1="344.20" y1="379.40" x2="621.40" y2="379.40" stroke="#666" stroke-width="0.9" />
<line x1="344.30" y1="379.40" x2="344.30" y2="381.90" stroke="#666" stroke-width="0.7" />
<line x1="351.79" y1="379.40" x2="351.79" y2="381.90" stroke="#666" stroke-width="0.7" />
<line x1="359.28" y1="379.40" x2="359.28" y2="381.90" stroke="#666" stroke-width="0.7" />
<line x1="366.77" y1="379.40" x2="366.77" y2="381.90" stroke="#666" stroke-width="0.7" />
<line x1="374.26" y1="379.40" x2="374.26" y2="381.90" stroke="#666" stroke-width="0.7" />
<line x1="381.75" y1="379.40" x2="381.75" y2="381.90" stroke="#666" stroke-width="0.7" />
<line x1="389.24" y1="379.40" x2="389.24" y2="381.90" stroke="#666" stroke-width="0.7" />
<line x1="396.73" y1="379.40" x2="396.73" y2="381.90" stroke="#666" stroke-width="0.7" />
<line x1="404.22" y1="379.40" x2="404.22" y2="381.90" stroke="#666" stroke-width="0.7" />
<line x1="411.71" y1="379.40" x2="411.71" y2="381.90" stroke="#666" stroke-width="0.7" />
<line x1="419.20" y1="379.40" x2="419.20" y2="381.90" stroke="#666" stroke-width="0.7" />
<line x1="426.69" y1="379.40" x2="426.69" y2="381.90" stroke="#666" stroke-width="0.7" />
<line x1="434.18" y1="379.40" x2="434.18" y2="381.90" stroke="#666" stroke-width="0.7" />
<line x1="441.67" y1="379.40" x2="441.67" y2="381.90" stroke="#666" stroke-width="0.7" />
<line x1="449.16" y1="379.40" x2="449.16" y2="381.90" stroke="#666" stroke-width="0.7" />
<line x1="456.65" y1="379.40" x2="456.65" y2="381.90" stroke="#666" stroke-width="0.7" />
<line x1="464.14" y1="379.40" x2="464.14" y2="381.90" stroke="#666" stroke-width="0.7" />
<line x1="471.63" y1="379.40" x2="471.63" y2="381.90" stroke="#666" stroke-width="0.7" />
<line x1="479.12" y1="379.40" x2="479.12" y2="381.90" stroke="#666" stroke-width="0.7" />
<line x1="486.61" y1="379.40" x2="486.61" y2="381.90" stroke="#666" stroke-width="0.7" />
<line x1="494.10" y1="379.40" x2="494.10" y2="381.90" stroke="#666" stroke-width="0.7" />
<line x1="501.59" y1="379.40" x2="501.59" y2="381.90" stroke="#666" stroke-width="0.7" />
<line x1="509.08" y1="379.40" x2="509.08" y2="381.90" stroke="#666" stroke-width="0.7" />
<line x1="516.57" y1="379.40" x2="516.57" y2="381.90" stroke="#666" stroke-width="0.7" />
<line x1="524.06" y1="379.40" x2="524.06" y2="381.90" stroke="#666" stroke-width="0.7" />
<line x1="531.55" y1="379.40" x2="531.55" y2="381.90" stroke="#666" stroke-width="0.7" />
<line x1="539.04" y1="379.40" x2="539.04" y2="381.90" stroke="#666" stroke-width="0.7" />
<line x1="546.53" y1="379.40" x2="546.53" y2="381.90" stroke="#666" stroke-width="0.7" />
<line x1="554.02" y1="379.40" x2="554.02" y2="381.90" stroke="#666" stroke-width="0.7" />
<line x1="561.51" y1="379.40" x2="561.51" y2="381.90" stroke="#666" stroke-width="0.7" />
<line x1="569.00" y1="379.40" x2="569.00" y2="381.90" stroke="#666" stroke-width="0.7" />
<line x1="576.49" y1="379.40" x2="576.49" y2="381.90" stroke="#666" stroke-width="0.7" />
<line x1="583.98" y1="379.40" x2="583.98" y2="381.90" stroke="#666" stroke-width="0.7" />
<line x1="591.47" y1="379.40" x2="591.47" y2="381.90" stroke="#666" stroke-width="0.7" />
<line x1="598.96" y1="379.40" x2="598.96" y2="381.90" stroke="#666" stroke-width="0.7" />
<line x1="606.45" y1="379.40" x2="606.45" y2="381.90" stroke="#666" stroke-width="0.7" />
<line x1="613.94" y1="379.40" x2="613.94" y2="381.90" stroke="#666" stroke-width="0.7" />
<line x1="621.43" y1="379.40" x2="621.43" y2="381.90" stroke="#666" stroke-width="0.7" />
<text x="349.25" y="390.80" font-size="9.2" fill="#444" text-anchor="middle" >1</text>
<text x="379.20" y="390.80" font-size="9.2" fill="#444" text-anchor="middle" >5</text>
<text x="416.66" y="390.80" font-size="9.2" fill="#444" text-anchor="middle" >10</text>
<text x="454.11" y="390.80" font-size="9.2" fill="#444" text-anchor="middle" >15</text>
<text x="491.56" y="390.80" font-size="9.2" fill="#444" text-anchor="middle" >20</text>
<text x="529.01" y="390.80" font-size="9.2" fill="#444" text-anchor="middle" >25</text>
<text x="566.46" y="390.80" font-size="9.2" fill="#444" text-anchor="middle" >30</text>
<text x="603.91" y="390.80" font-size="9.2" fill="#444" text-anchor="middle" >35</text>
<text transform="translate(323.4,312) rotate(-90)" font-size="10.4" font-weight="bold" fill="#1a1a1a" text-anchor="middle">Number of TFs</text>
<text x="402.50" y="402.80" font-size="10.3" fill="#1a1a1a" font-weight="bold" text-anchor="start" >Number of C2H2 ZF domains per TF</text>
<rect x="497.80" y="260.90" width="13.80" height="14.90" fill="#E8673A" stroke="#333" stroke-width="0.8" />
<text x="517.00" y="271.80" font-size="9.4" fill="#333" text-anchor="start" >Other/None</text>
<rect x="497.80" y="275.80" width="13.80" height="14.90" fill="#4AA3C2" stroke="#333" stroke-width="0.8" />
<text x="517.00" y="286.70" font-size="9.4" fill="#333" text-anchor="start" >BTB</text>
<rect x="497.80" y="290.70" width="13.80" height="14.90" fill="#7B64A6" stroke="#333" stroke-width="0.8" />
<text x="517.00" y="301.60" font-size="9.4" fill="#333" text-anchor="start" >KRAB+SCAN</text>
<rect x="497.80" y="305.60" width="13.80" height="14.90" fill="#8E97C6" stroke="#333" stroke-width="0.8" />
<text x="517.00" y="316.50" font-size="9.4" fill="#333" text-anchor="start" >SCAN</text>
<rect x="497.80" y="320.50" width="13.80" height="14.90" fill="#0E8A22" stroke="#333" stroke-width="0.8" />
<text x="517.00" y="331.40" font-size="9.4" fill="#333" text-anchor="start" >Classic</text>
<rect x="497.80" y="335.40" width="13.80" height="14.90" fill="#C9392C" stroke="#333" stroke-width="0.8" />
<text x="517.00" y="346.30" font-size="9.4" fill="#333" text-anchor="start" >KRAB</text>
<text x="12.30" y="575.60" font-size="12.4" fill="#111" font-weight="bold" text-anchor="start" >C</text>
<text x="93.50" y="601.20" font-size="10.9" fill="#2a2a2a" text-anchor="end" >78 TFs with</text>
<text x="93.50" y="616.20" font-size="10.9" fill="#2a2a2a" text-anchor="end" >Multiple DBDs</text>
<text x="93.50" y="674.00" font-size="10.9" fill="#2a2a2a" text-anchor="end" >713 TFs with</text>
<text x="93.50" y="689.00" font-size="10.9" fill="#2a2a2a" text-anchor="end" >C2H2 ZF arrays</text>
<text x="93.50" y="803.90" font-size="10.9" fill="#2a2a2a" text-anchor="end" >779 TFs with</text>
<text x="93.50" y="818.30" font-size="10.9" fill="#2a2a2a" text-anchor="end" >a single DBD</text>
<path d="M125.8,593.2 L150,587.2 L150,682 C149,625 140,601 125.8,600 Z" fill="#ababab" stroke="none"/>
<path d="M125.8,593.2 L150,587.2" stroke="#333" stroke-width="0.9" fill="none"/>
<path d="M125.8,600 C134,601 142,660 149.2,711 L150,857 L125.8,601 Z" fill="#e4e4e8" stroke="none"/>
<path d="M125.8,600 C140,601 149,625 150,682" stroke="#222" stroke-width="1.1" fill="none"/>
<path d="M125.8,600 C134,601 142,660 149.2,711" stroke="#222" stroke-width="1.1" fill="none"/>
<path d="M125.8,601 L150,857" stroke="#222" stroke-width="1.1" fill="none"/>
<rect x="103.20" y="593.20" width="22.60" height="7.40" fill="#a9a9a9" stroke="#333" stroke-width="0.9" />
<rect x="103.20" y="600.60" width="22.60" height="6.40" fill="#e8e8ea" stroke="#333" stroke-width="0.9" />
<rect x="103.20" y="607.00" width="22.60" height="120.30" fill="#E8673A" />
<rect x="103.20" y="727.30" width="22.60" height="130.40" fill="#555555" />
<line x1="103.20" y1="607.00" x2="125.80" y2="607.00" stroke="#5a2010" stroke-width="1" />
<rect x="150.20" y="587.80" width="232.20" height="123.50" fill="#ffffff" stroke="#1a1a1a" stroke-width="1.8" />
<text x="157.50" y="600.00" font-size="10.9" fill="#111" font-weight="bold" text-anchor="start" >TFs with ≥ 2 homotypic DBDs</text>
<text x="157.50" y="615.20" font-size="9.65" fill="#333" text-anchor="start" xml:space="preserve">Homeodomain x 2-5 (10)</text>
<text x="157.50" y="629.25" font-size="9.65" fill="#333" text-anchor="start" xml:space="preserve">GATA x 2 (7)</text>
<text x="157.50" y="643.30" font-size="9.65" fill="#333" text-anchor="start" xml:space="preserve">AT Hook x 2-4 (6)</text>
<text x="157.50" y="657.35" font-size="9.65" fill="#333" text-anchor="start" xml:space="preserve">BED ZF x 2-4 (3)</text>
<text x="157.50" y="671.40" font-size="9.65" fill="#333" text-anchor="start" xml:space="preserve">GTF2I x 2-5 (3)</text>
<text x="157.50" y="685.45" font-size="9.65" fill="#333" text-anchor="start" xml:space="preserve">E2F x 2 (2)</text>
<text x="157.50" y="699.50" font-size="9.65" fill="#333" text-anchor="start" xml:space="preserve">Myb/SANT x 2-5 (2)</text>
<text x="278.20" y="615.20" font-size="9.65" fill="#333" text-anchor="start" xml:space="preserve">ZF NF-X1 x 6-11 (2)</text>
<text x="278.20" y="629.25" font-size="9.65" fill="#333" text-anchor="start" xml:space="preserve">HTH Pipsqueak x 2 (1)</text>
<text x="278.20" y="643.30" font-size="9.65" fill="#333" text-anchor="start" xml:space="preserve">MBD  x2 (1)</text>
<text x="278.20" y="657.35" font-size="9.65" fill="#333" text-anchor="start" xml:space="preserve">TCR/CxC x2 (1)</text>
<text x="278.20" y="671.40" font-size="9.65" fill="#333" text-anchor="start" xml:space="preserve">FLYWCH x 5 (1)</text>
<text x="278.20" y="685.45" font-size="9.65" fill="#333" text-anchor="start" xml:space="preserve">DM x 2 (1)</text>
<rect x="150.20" y="712.30" width="232.20" height="144.80" fill="#ffffff" stroke="#1a1a1a" stroke-width="1.8" />
<text x="157.00" y="725.80" font-size="10.9" fill="#111" font-weight="bold" text-anchor="start" >TFs with ≥ 2 heterotypic DBDs</text>
<text x="158.50" y="740.20" font-size="9.65" fill="#333" text-anchor="start" >Homeodomain</text>
<polygon points="238.66,743.05 297.66,743.45 297.74,730.95 238.74,730.55" fill="#111"/>
<polygon points="238.08,739.22 295.68,754.02 296.92,749.18 239.32,734.38" fill="#111"/>
<polygon points="236.91,739.81 285.81,769.01 289.39,762.99 240.49,733.79" fill="#111"/>
<polygon points="237.99,737.36 271.09,779.56 272.51,778.44 239.41,736.24" fill="#111"/>
<polygon points="237.99,737.04 250.29,773.24 251.71,772.76 239.41,736.56" fill="#111"/>
<circle cx="297.70" cy="737.20" r="6.6" fill="#fff" stroke="#222" stroke-width="1.1"/>
<circle cx="296.30" cy="751.60" r="6.6" fill="#fff" stroke="#222" stroke-width="1.1"/>
<circle cx="287.60" cy="766.00" r="6.6" fill="#fff" stroke="#222" stroke-width="1.1"/>
<circle cx="271.80" cy="779.20" r="6.6" fill="#fff" stroke="#222" stroke-width="1.1"/>
<ellipse cx="245.10" cy="779.00" rx="2.6" ry="6.4" fill="#E8673A" stroke="#F2A07E" stroke-width="0.35"/>
<ellipse cx="248.90" cy="779.00" rx="2.6" ry="6.4" fill="#E8673A" stroke="#F2A07E" stroke-width="0.35"/>
<ellipse cx="252.70" cy="779.00" rx="2.6" ry="6.4" fill="#E8673A" stroke="#F2A07E" stroke-width="0.35"/>
<ellipse cx="256.50" cy="779.00" rx="2.6" ry="6.4" fill="#E8673A" stroke="#F2A07E" stroke-width="0.35"/>
<circle cx="238.70" cy="736.80" r="6.8" fill="#0B5E5E" stroke="none" stroke-width="0"/>
<text x="307.50" y="740.80" font-size="9.65" fill="#333" text-anchor="start" >POU x 1 (16)</text>
<text x="305.80" y="755.30" font-size="9.65" fill="#333" text-anchor="start" >PAX x 1 (5)</text>
<text x="298.80" y="769.80" font-size="9.65" fill="#333" text-anchor="start" >CUT x 1-3 (7)</text>
<text x="283.30" y="782.80" font-size="9.65" fill="#333" text-anchor="start" >PROX x 1 (2)</text>
<text x="234.40" y="783.30" font-size="9.65" fill="#333" text-anchor="end" >C2H2 array (3)</text>
<line x1="234.60" y1="797.00" x2="271.30" y2="797.00" stroke="#111" stroke-width="1.2" />
<circle cx="234.60" cy="797.00" r="6.8" fill="#6A35A0" stroke="none" stroke-width="0"/>
<circle cx="271.30" cy="797.00" r="6.6" fill="#111" stroke="#222" stroke-width="1.1"/>
<text x="220.60" y="800.50" font-size="9.65" fill="#333" text-anchor="end" >T-box</text>
<text x="286.00" y="800.50" font-size="9.65" fill="#333" text-anchor="start" >bHLH (1)</text>
<line x1="234.60" y1="813.40" x2="271.30" y2="813.40" stroke="#111" stroke-width="1.2" />
<circle cx="234.60" cy="813.40" r="6.8" fill="#F6C034" stroke="none" stroke-width="0"/>
<circle cx="271.30" cy="813.40" r="6.6" fill="#fff" stroke="#222" stroke-width="1.1"/>
<text x="220.60" y="816.90" font-size="9.65" fill="#333" text-anchor="end" >Ets</text>
<text x="286.00" y="816.90" font-size="9.65" fill="#333" text-anchor="start" >AT hook (1)</text>
<line x1="234.60" y1="829.30" x2="271.30" y2="829.30" stroke="#111" stroke-width="2" />
<ellipse cx="228.90" cy="829.30" rx="2.6" ry="6.4" fill="#E8673A" stroke="#F2A07E" stroke-width="0.35"/>
<ellipse cx="232.70" cy="829.30" rx="2.6" ry="6.4" fill="#E8673A" stroke="#F2A07E" stroke-width="0.35"/>
<ellipse cx="236.50" cy="829.30" rx="2.6" ry="6.4" fill="#E8673A" stroke="#F2A07E" stroke-width="0.35"/>
<ellipse cx="240.30" cy="829.30" rx="2.6" ry="6.4" fill="#E8673A" stroke="#F2A07E" stroke-width="0.35"/>
<circle cx="271.30" cy="829.30" r="6.6" fill="#fff" stroke="#222" stroke-width="1.1"/>
<text x="220.60" y="832.80" font-size="9.65" fill="#333" text-anchor="end" >C2H2 array</text>
<text x="286.00" y="832.80" font-size="9.65" fill="#333" text-anchor="start" >AT hook (2)</text>
<line x1="234.60" y1="844.70" x2="271.30" y2="844.70" stroke="#111" stroke-width="1.2" />
<circle cx="234.60" cy="844.70" r="6.6" fill="#fff" stroke="#222" stroke-width="1.1"/>
<circle cx="271.30" cy="844.70" r="6.6" fill="#fff" stroke="#222" stroke-width="1.1"/>
<text x="220.60" y="848.20" font-size="9.65" fill="#333" text-anchor="end" >MBD</text>
<text x="286.00" y="848.20" font-size="9.65" fill="#333" text-anchor="start" >AT hook (1)</text>
<text x="400.40" y="575.40" font-size="11.8" fill="#111" font-weight="bold" text-anchor="start" >D</text>
<line x1="445.30" y1="588.00" x2="445.30" y2="833.40" stroke="#111" stroke-width="1.1" />
<line x1="441.80" y1="833.40" x2="445.30" y2="833.40" stroke="#111" stroke-width="1" />
<text x="438.60" y="836.10" font-size="9.7" fill="#333" text-anchor="end" >0</text>
<line x1="441.80" y1="798.37" x2="445.30" y2="798.37" stroke="#111" stroke-width="1" />
<text x="438.60" y="801.07" font-size="9.7" fill="#333" text-anchor="end" >100</text>
<line x1="441.80" y1="763.34" x2="445.30" y2="763.34" stroke="#111" stroke-width="1" />
<text x="438.60" y="766.04" font-size="9.7" fill="#333" text-anchor="end" >200</text>
<line x1="441.80" y1="728.31" x2="445.30" y2="728.31" stroke="#111" stroke-width="1" />
<text x="438.60" y="731.01" font-size="9.7" fill="#333" text-anchor="end" >300</text>
<line x1="441.80" y1="693.28" x2="445.30" y2="693.28" stroke="#111" stroke-width="1" />
<text x="438.60" y="695.98" font-size="9.7" fill="#333" text-anchor="end" >400</text>
<line x1="441.80" y1="658.25" x2="445.30" y2="658.25" stroke="#111" stroke-width="1" />
<text x="438.60" y="660.95" font-size="9.7" fill="#333" text-anchor="end" >500</text>
<line x1="441.80" y1="623.22" x2="445.30" y2="623.22" stroke="#111" stroke-width="1" />
<text x="438.60" y="625.92" font-size="9.7" fill="#333" text-anchor="end" >600</text>
<line x1="441.80" y1="588.19" x2="445.30" y2="588.19" stroke="#111" stroke-width="1" />
<text x="438.60" y="590.89" font-size="9.7" fill="#333" text-anchor="end" >700</text>
<text transform="translate(414.3,709) rotate(-90)" font-size="10.9" font-weight="bold" fill="#111" text-anchor="middle">Number of TFs</text>
<line x1="445.30" y1="833.40" x2="647.00" y2="833.40" stroke="#111" stroke-width="1.1" />
<rect x="446.30" y="751.78" width="15.80" height="81.62" fill="#E8673A" />
<line x1="446.30" y1="751.78" x2="462.10" y2="751.78" stroke="#333" stroke-width="0.5" />
<rect x="446.30" y="708.34" width="15.80" height="43.44" fill="#0B5C5C" />
<line x1="446.30" y1="708.34" x2="462.10" y2="708.34" stroke="#333" stroke-width="0.5" />
<rect x="446.30" y="687.32" width="15.80" height="21.02" fill="#000000" />
<line x1="446.30" y1="687.32" x2="462.10" y2="687.32" stroke="#333" stroke-width="0.5" />
<rect x="446.30" y="671.56" width="15.80" height="15.76" fill="#62B446" />
<line x1="446.30" y1="671.56" x2="462.10" y2="671.56" stroke="#333" stroke-width="0.5" />
<rect x="446.30" y="665.61" width="15.80" height="5.96" fill="#5A1828" />
<line x1="446.30" y1="665.61" x2="462.10" y2="665.61" stroke="#333" stroke-width="0.5" />
<rect x="446.30" y="662.10" width="15.80" height="3.50" fill="#9399CF" />
<line x1="446.30" y1="662.10" x2="462.10" y2="662.10" stroke="#333" stroke-width="0.5" />
<rect x="446.30" y="659.30" width="15.80" height="2.80" fill="#ffffff" />
<line x1="446.30" y1="659.30" x2="462.10" y2="659.30" stroke="#333" stroke-width="0.5" />
<rect x="446.30" y="655.80" width="15.80" height="3.50" fill="#F7C040" />
<line x1="446.30" y1="655.80" x2="462.10" y2="655.80" stroke="#333" stroke-width="0.5" />
<rect x="446.30" y="651.24" width="15.80" height="4.55" fill="#7040B0" />
<line x1="446.30" y1="651.24" x2="462.10" y2="651.24" stroke="#333" stroke-width="0.5" />
<rect x="446.30" y="648.79" width="15.80" height="2.45" fill="#C99A68" />
<line x1="446.30" y1="648.79" x2="462.10" y2="648.79" stroke="#333" stroke-width="0.5" />
<rect x="446.30" y="647.39" width="15.80" height="1.40" fill="#5A1828" />
<line x1="446.30" y1="647.39" x2="462.10" y2="647.39" stroke="#333" stroke-width="0.5" />
<rect x="446.30" y="645.29" width="15.80" height="2.10" fill="#D8A090" />
<line x1="446.30" y1="645.29" x2="462.10" y2="645.29" stroke="#333" stroke-width="0.5" />
<rect x="446.30" y="617.97" width="15.80" height="27.32" fill="#A0A0A0" />
<line x1="446.30" y1="617.97" x2="462.10" y2="617.97" stroke="#333" stroke-width="0.5" />
<rect x="446.30" y="617.97" width="15.80" height="215.43" fill="none" stroke="#222" stroke-width="1" />
<line x1="444.30" y1="833.40" x2="444.30" y2="836.40" stroke="#111" stroke-width="1" />
<text x="454.20" y="847.80" font-size="9.7" fill="#3a3a3a" text-anchor="middle" >0</text>
<rect x="464.63" y="718.15" width="15.80" height="115.25" fill="#C83A30" />
<line x1="464.63" y1="718.15" x2="480.43" y2="718.15" stroke="#333" stroke-width="0.5" />
<rect x="464.63" y="702.39" width="15.80" height="15.76" fill="#E8673A" />
<line x1="464.63" y1="702.39" x2="480.43" y2="702.39" stroke="#333" stroke-width="0.5" />
<rect x="464.63" y="682.07" width="15.80" height="20.32" fill="#0B5C5C" />
<line x1="464.63" y1="682.07" x2="480.43" y2="682.07" stroke="#333" stroke-width="0.5" />
<rect x="464.63" y="674.36" width="15.80" height="7.71" fill="#000000" />
<line x1="464.63" y1="674.36" x2="480.43" y2="674.36" stroke="#333" stroke-width="0.5" />
<rect x="464.63" y="665.61" width="15.80" height="8.76" fill="#5A1828" />
<line x1="464.63" y1="665.61" x2="480.43" y2="665.61" stroke="#333" stroke-width="0.5" />
<rect x="464.63" y="659.30" width="15.80" height="6.31" fill="#9399CF" />
<line x1="464.63" y1="659.30" x2="480.43" y2="659.30" stroke="#333" stroke-width="0.5" />
<rect x="464.63" y="653.35" width="15.80" height="5.96" fill="#ffffff" />
<line x1="464.63" y1="653.35" x2="480.43" y2="653.35" stroke="#333" stroke-width="0.5" />
<rect x="464.63" y="651.59" width="15.80" height="1.75" fill="#F7C040" />
<line x1="464.63" y1="651.59" x2="480.43" y2="651.59" stroke="#333" stroke-width="0.5" />
<rect x="464.63" y="649.84" width="15.80" height="1.75" fill="#5A1828" />
<line x1="464.63" y1="649.84" x2="480.43" y2="649.84" stroke="#333" stroke-width="0.5" />
<rect x="464.63" y="647.39" width="15.80" height="2.45" fill="#C99A68" />
<line x1="464.63" y1="647.39" x2="480.43" y2="647.39" stroke="#333" stroke-width="0.5" />
<rect x="464.63" y="644.59" width="15.80" height="2.80" fill="#9399CF" />
<line x1="464.63" y1="644.59" x2="480.43" y2="644.59" stroke="#333" stroke-width="0.5" />
<rect x="464.63" y="643.89" width="15.80" height="0.70" fill="#28479A" />
<line x1="464.63" y1="643.89" x2="480.43" y2="643.89" stroke="#333" stroke-width="0.5" />
<rect x="464.63" y="623.22" width="15.80" height="20.67" fill="#A0A0A0" />
<line x1="464.63" y1="623.22" x2="480.43" y2="623.22" stroke="#333" stroke-width="0.5" />
<rect x="464.63" y="623.22" width="15.80" height="210.18" fill="none" stroke="#222" stroke-width="1" />
<line x1="462.63" y1="833.40" x2="462.63" y2="836.40" stroke="#111" stroke-width="1" />
<text x="472.53" y="847.80" font-size="9.7" fill="#3a3a3a" text-anchor="middle" >1</text>
<rect x="482.96" y="829.90" width="15.80" height="3.50" fill="#C83A30" />
<line x1="482.96" y1="829.90" x2="498.76" y2="829.90" stroke="#333" stroke-width="0.5" />
<rect x="482.96" y="814.83" width="15.80" height="15.06" fill="#E8673A" />
<line x1="482.96" y1="814.83" x2="498.76" y2="814.83" stroke="#333" stroke-width="0.5" />
<rect x="482.96" y="811.33" width="15.80" height="3.50" fill="#0B5C5C" />
<line x1="482.96" y1="811.33" x2="498.76" y2="811.33" stroke="#333" stroke-width="0.5" />
<rect x="482.96" y="807.48" width="15.80" height="3.85" fill="#000000" />
<line x1="482.96" y1="807.48" x2="498.76" y2="807.48" stroke="#333" stroke-width="0.5" />
<rect x="482.96" y="805.38" width="15.80" height="2.10" fill="#62B446" />
<line x1="482.96" y1="805.38" x2="498.76" y2="805.38" stroke="#333" stroke-width="0.5" />
<rect x="482.96" y="799.42" width="15.80" height="5.96" fill="#28479A" />
<line x1="482.96" y1="799.42" x2="498.76" y2="799.42" stroke="#333" stroke-width="0.5" />
<rect x="482.96" y="795.92" width="15.80" height="3.50" fill="#5A1828" />
<line x1="482.96" y1="795.92" x2="498.76" y2="795.92" stroke="#333" stroke-width="0.5" />
<rect x="482.96" y="793.82" width="15.80" height="2.10" fill="#ffffff" />
<line x1="482.96" y1="793.82" x2="498.76" y2="793.82" stroke="#333" stroke-width="0.5" />
<rect x="482.96" y="791.71" width="15.80" height="2.10" fill="#F7C040" />
<line x1="482.96" y1="791.71" x2="498.76" y2="791.71" stroke="#333" stroke-width="0.5" />
<rect x="482.96" y="790.66" width="15.80" height="1.05" fill="#ffffff" />
<line x1="482.96" y1="790.66" x2="498.76" y2="790.66" stroke="#333" stroke-width="0.5" />
<rect x="482.96" y="775.95" width="15.80" height="14.71" fill="#A0A0A0" />
<line x1="482.96" y1="775.95" x2="498.76" y2="775.95" stroke="#333" stroke-width="0.5" />
<rect x="482.96" y="775.95" width="15.80" height="57.45" fill="none" stroke="#222" stroke-width="1" />
<line x1="480.96" y1="833.40" x2="480.96" y2="836.40" stroke="#111" stroke-width="1" />
<text x="490.86" y="847.80" font-size="9.7" fill="#3a3a3a" text-anchor="middle" >2</text>
<rect x="501.29" y="823.94" width="15.80" height="9.46" fill="#C83A30" />
<line x1="501.29" y1="823.94" x2="517.09" y2="823.94" stroke="#333" stroke-width="0.5" />
<rect x="501.29" y="808.53" width="15.80" height="15.41" fill="#E8673A" />
<line x1="501.29" y1="808.53" x2="517.09" y2="808.53" stroke="#333" stroke-width="0.5" />
<rect x="501.29" y="806.78" width="15.80" height="1.75" fill="#0B5C5C" />
<line x1="501.29" y1="806.78" x2="517.09" y2="806.78" stroke="#333" stroke-width="0.5" />
<rect x="501.29" y="803.97" width="15.80" height="2.80" fill="#000000" />
<line x1="501.29" y1="803.97" x2="517.09" y2="803.97" stroke="#333" stroke-width="0.5" />
<rect x="501.29" y="794.17" width="15.80" height="9.81" fill="#28479A" />
<line x1="501.29" y1="794.17" x2="517.09" y2="794.17" stroke="#333" stroke-width="0.5" />
<rect x="501.29" y="791.71" width="15.80" height="2.45" fill="#ffffff" />
<line x1="501.29" y1="791.71" x2="517.09" y2="791.71" stroke="#333" stroke-width="0.5" />
<rect x="501.29" y="779.80" width="15.80" height="11.91" fill="#A0A0A0" />
<line x1="501.29" y1="779.80" x2="517.09" y2="779.80" stroke="#333" stroke-width="0.5" />
<rect x="501.29" y="779.80" width="15.80" height="53.60" fill="none" stroke="#222" stroke-width="1" />
<line x1="499.29" y1="833.40" x2="499.29" y2="836.40" stroke="#111" stroke-width="1" />
<text x="509.19" y="847.80" font-size="9.7" fill="#3a3a3a" text-anchor="middle" >3</text>
<rect x="519.62" y="831.65" width="15.80" height="1.75" fill="#C83A30" />
<line x1="519.62" y1="831.65" x2="535.42" y2="831.65" stroke="#333" stroke-width="0.5" />
<rect x="519.62" y="830.25" width="15.80" height="1.40" fill="#E8673A" />
<line x1="519.62" y1="830.25" x2="535.42" y2="830.25" stroke="#333" stroke-width="0.5" />
<rect x="519.62" y="828.50" width="15.80" height="1.75" fill="#000000" />
<line x1="519.62" y1="828.50" x2="535.42" y2="828.50" stroke="#333" stroke-width="0.5" />
<rect x="519.62" y="827.80" width="15.80" height="0.70" fill="#ffffff" />
<line x1="519.62" y1="827.80" x2="535.42" y2="827.80" stroke="#333" stroke-width="0.5" />
<rect x="519.62" y="823.59" width="15.80" height="4.20" fill="#A0A0A0" />
<line x1="519.62" y1="823.59" x2="535.42" y2="823.59" stroke="#333" stroke-width="0.5" />
<rect x="519.62" y="823.59" width="15.80" height="9.81" fill="none" stroke="#222" stroke-width="1" />
<line x1="517.62" y1="833.40" x2="517.62" y2="836.40" stroke="#111" stroke-width="1" />
<text x="527.52" y="847.80" font-size="9.7" fill="#3a3a3a" text-anchor="middle" >4</text>
<rect x="537.95" y="831.65" width="15.80" height="1.75" fill="#000000" />
<line x1="537.95" y1="831.65" x2="553.75" y2="831.65" stroke="#333" stroke-width="0.5" />
<rect x="537.95" y="829.55" width="15.80" height="2.10" fill="#A0A0A0" />
<line x1="537.95" y1="829.55" x2="553.75" y2="829.55" stroke="#333" stroke-width="0.5" />
<rect x="537.95" y="828.85" width="15.80" height="0.70" fill="#ffffff" />
<line x1="537.95" y1="828.85" x2="553.75" y2="828.85" stroke="#333" stroke-width="0.5" />
<rect x="537.95" y="825.69" width="15.80" height="3.15" fill="#A0A0A0" />
<line x1="537.95" y1="825.69" x2="553.75" y2="825.69" stroke="#333" stroke-width="0.5" />
<rect x="537.95" y="825.69" width="15.80" height="7.71" fill="none" stroke="#222" stroke-width="1" />
<line x1="535.95" y1="833.40" x2="535.95" y2="836.40" stroke="#111" stroke-width="1" />
<text x="545.85" y="847.80" font-size="9.7" fill="#3a3a3a" text-anchor="middle" >5</text>
<rect x="556.28" y="832.35" width="15.80" height="1.05" fill="#000000" />
<line x1="556.28" y1="832.35" x2="572.08" y2="832.35" stroke="#333" stroke-width="0.5" />
<rect x="556.28" y="828.15" width="15.80" height="4.20" fill="#A0A0A0" />
<line x1="556.28" y1="828.15" x2="572.08" y2="828.15" stroke="#333" stroke-width="0.5" />
<rect x="556.28" y="828.15" width="15.80" height="5.25" fill="none" stroke="#222" stroke-width="1" />
<line x1="554.28" y1="833.40" x2="554.28" y2="836.40" stroke="#111" stroke-width="1" />
<text x="564.18" y="847.80" font-size="9.7" fill="#3a3a3a" text-anchor="middle" >6</text>
<rect x="574.61" y="830.25" width="15.80" height="3.15" fill="#A0A0A0" />
<line x1="574.61" y1="830.25" x2="590.41" y2="830.25" stroke="#333" stroke-width="0.5" />
<rect x="574.61" y="830.25" width="15.80" height="3.15" fill="none" stroke="#222" stroke-width="1" />
<line x1="572.61" y1="833.40" x2="572.61" y2="836.40" stroke="#111" stroke-width="1" />
<text x="582.51" y="847.80" font-size="9.7" fill="#3a3a3a" text-anchor="middle" >7</text>
<rect x="592.94" y="830.77" width="15.80" height="2.63" fill="#A0A0A0" />
<line x1="592.94" y1="830.77" x2="608.74" y2="830.77" stroke="#333" stroke-width="0.5" />
<rect x="592.94" y="830.77" width="15.80" height="2.63" fill="none" stroke="#222" stroke-width="1" />
<line x1="590.94" y1="833.40" x2="590.94" y2="836.40" stroke="#111" stroke-width="1" />
<text x="600.84" y="847.80" font-size="9.7" fill="#3a3a3a" text-anchor="middle" >8</text>
<rect x="611.27" y="832.70" width="15.80" height="0.70" fill="#000000" />
<line x1="611.27" y1="832.70" x2="627.07" y2="832.70" stroke="#333" stroke-width="0.5" />
<rect x="611.27" y="831.47" width="15.80" height="1.23" fill="#A0A0A0" />
<line x1="611.27" y1="831.47" x2="627.07" y2="831.47" stroke="#333" stroke-width="0.5" />
<rect x="611.27" y="831.47" width="15.80" height="1.93" fill="none" stroke="#222" stroke-width="1" />
<line x1="609.27" y1="833.40" x2="609.27" y2="836.40" stroke="#111" stroke-width="1" />
<text x="619.17" y="847.80" font-size="9.7" fill="#3a3a3a" text-anchor="middle" >9</text>
<rect x="629.60" y="832.70" width="15.80" height="0.70" fill="#A0A0A0" />
<line x1="629.60" y1="832.70" x2="645.40" y2="832.70" stroke="#333" stroke-width="0.5" />
<rect x="629.60" y="832.70" width="15.80" height="0.70" fill="none" stroke="#222" stroke-width="1" />
<line x1="627.60" y1="833.40" x2="627.60" y2="836.40" stroke="#111" stroke-width="1" />
<text x="637.50" y="847.80" font-size="9.7" fill="#3a3a3a" text-anchor="middle" >10</text>
<line x1="646.00" y1="833.40" x2="646.00" y2="836.40" stroke="#111" stroke-width="1" />
<text x="446.60" y="866.00" font-size="11.0" fill="#111" font-weight="bold" text-anchor="start" >Number of non-DNA binding domains</text>
<rect x="495.60" y="588.70" width="16.00" height="15.60" fill="#A0A0A0" stroke="#444" stroke-width="1" />
<text x="518.80" y="599.90" font-size="9.7" fill="#333" text-anchor="start" >Other domains (&lt;10)</text>
<rect x="495.60" y="609.80" width="16.00" height="15.60" fill="#3AA2F0" stroke="#444" stroke-width="1" />
<text x="518.80" y="621.00" font-size="9.7" fill="#333" text-anchor="start" >Myb/SANT</text>
<rect x="495.60" y="631.20" width="16.00" height="15.60" fill="#C99A68" stroke="#444" stroke-width="1" />
<text x="518.80" y="642.40" font-size="9.7" fill="#333" text-anchor="start" >Homeo+POU</text>
<rect x="495.60" y="652.20" width="16.00" height="15.60" fill="#7040B0" stroke="#444" stroke-width="1" />
<text x="518.80" y="663.40" font-size="9.7" fill="#333" text-anchor="start" >T-box</text>
<rect x="495.60" y="673.50" width="16.00" height="15.60" fill="#9399CF" stroke="#444" stroke-width="1" />
<text x="518.80" y="684.70" font-size="9.7" fill="#333" text-anchor="start" >HMG/Sox</text>
<rect x="495.60" y="694.50" width="16.00" height="15.60" fill="#555555" stroke="#444" stroke-width="1" />
<text x="518.80" y="705.70" font-size="9.7" fill="#333" text-anchor="start" >AT hook</text>
<rect x="495.60" y="715.50" width="16.00" height="15.60" fill="#F7C040" stroke="#444" stroke-width="1" />
<text x="518.80" y="726.70" font-size="9.7" fill="#333" text-anchor="start" >Ets</text>
<rect x="495.60" y="736.80" width="16.00" height="15.60" fill="#ffffff" stroke="#444" stroke-width="1" />
<text x="518.80" y="748.00" font-size="9.7" fill="#333" text-anchor="start" >Unknown</text>
<rect x="590.40" y="609.80" width="16.00" height="15.60" fill="#5A1828" stroke="#444" stroke-width="1" />
<text x="613.70" y="621.00" font-size="9.7" fill="#333" text-anchor="start" >bZIP</text>
<rect x="590.40" y="631.20" width="16.00" height="15.60" fill="#62B446" stroke="#444" stroke-width="1" />
<text x="613.70" y="642.40" font-size="9.7" fill="#333" text-anchor="start" >Forkhead</text>
<rect x="590.40" y="652.20" width="16.00" height="15.60" fill="#000000" stroke="#444" stroke-width="1" />
<text x="613.70" y="663.40" font-size="9.7" fill="#333" text-anchor="start" >bHLH</text>
<rect x="590.40" y="673.50" width="16.00" height="15.60" fill="#0B5C5C" stroke="#444" stroke-width="1" />
<text x="613.70" y="684.70" font-size="9.7" fill="#333" text-anchor="start" >Homeodomain</text>
<rect x="590.40" y="694.50" width="16.00" height="15.60" fill="#28479A" stroke="#444" stroke-width="1" />
<text x="613.70" y="705.70" font-size="9.7" fill="#333" text-anchor="start" >Nuclear rec.</text>
<rect x="590.40" y="715.50" width="16.00" height="15.60" fill="#C83A30" stroke="#444" stroke-width="1" />
<text x="613.70" y="720.50" font-size="9.7" fill="#333" text-anchor="start" >C2H2 ZF</text>
<text x="613.70" y="729.70" font-size="9.7" fill="#333" text-anchor="start" >(KRAB)</text>
<rect x="590.40" y="736.80" width="16.00" height="15.60" fill="#E8673A" stroke="#444" stroke-width="1" />
<text x="613.70" y="741.80" font-size="9.7" fill="#333" text-anchor="start" >C2H2 ZF</text>
<text x="613.70" y="751.00" font-size="9.7" fill="#333" text-anchor="start" >(non-KRAB)</text>
<rect x="8" y="9.8" width="677.2" height="875.4" fill="none" stroke="#333" stroke-width="1.6"/>
<line x1="8.00" y1="226.50" x2="685.00" y2="226.50" stroke="#333" stroke-width="1.6" />
<line x1="8.00" y1="561.20" x2="685.00" y2="561.20" stroke="#333" stroke-width="1.6" />
<line x1="394.60" y1="561.00" x2="394.60" y2="885.00" stroke="#2a2a2a" stroke-width="1.6" />
</svg></body></html>
